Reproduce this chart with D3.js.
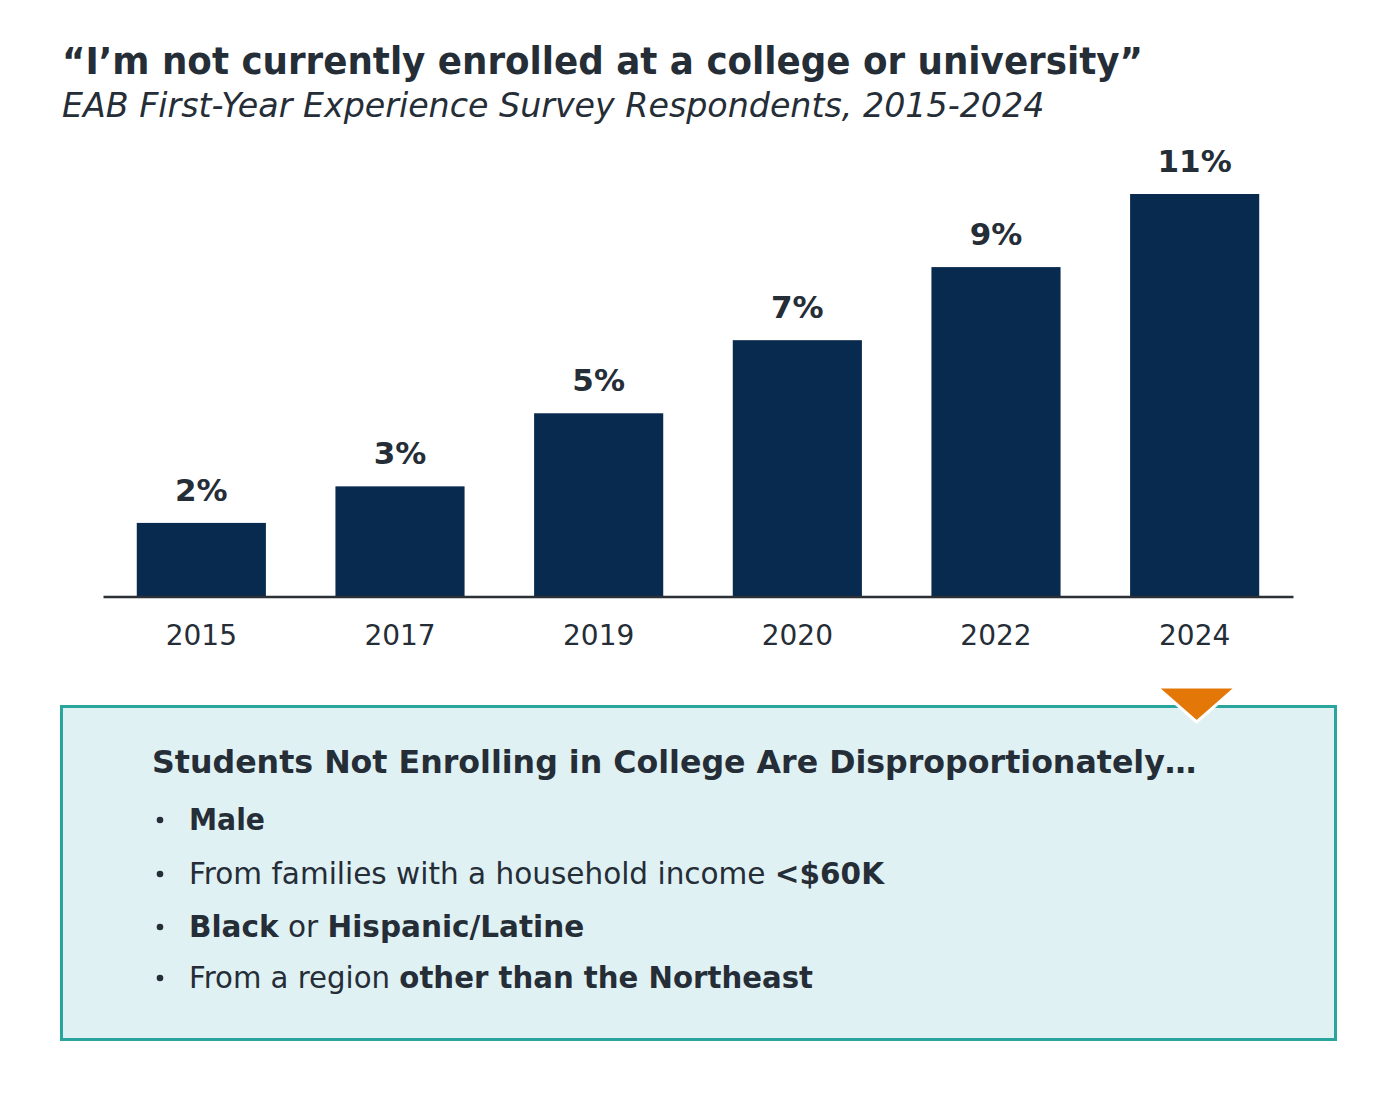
<!DOCTYPE html>
<html>
<head>
<meta charset="utf-8">
<script src="https://cdn.jsdelivr.net/npm/d3@7/dist/d3.min.js"></script>
<style>
  html, body { margin: 0; padding: 0; background: #ffffff; }
  svg { display: block; }
  text { white-space: pre; }
</style>
</head>
<body>
<svg id="chart" width="1396" height="1098"></svg>
<script>
// ---- data ----
const categories = ["2015", "2017", "2019", "2020", "2022", "2024"];
const values = [2, 3, 5, 7, 9, 11];
const titleText = "\u201CI\u2019m not currently enrolled at a college or university\u201D";
const subtitleText = "EAB First-Year Experience Survey Respondents, 2015-2024";
const boxHeading = "Students Not Enrolling in College Are Disproportionately\u2026";
const bulletLines = [
  [["Male", true]],
  [["From families with a household income ", false], ["<$60K", true]],
  [["Black", true], [" or ", false], ["Hispanic/Latine", true]],
  [["From a region ", false], ["other than the Northeast", true]]
];

// ---- style ----
const FONT = "'DejaVu Sans', Verdana, sans-serif";
const TEXT = "#252d37";
const BAR = "#092a4f";
const TEAL = "#2aa59e";
const BOXFILL = "#e0f1f4";
const ORANGE = "#e37708";

const svg = d3.select("#chart");

function squeeze(sel, target) {
  const w = sel.node().getComputedTextLength();
  if (w > target) {
    sel.attr("textLength", target).attr("lengthAdjust", "spacingAndGlyphs");
  } else {
    sel.attr("font-size", parseFloat(sel.attr("font-size")) * target / w);
  }
}

// ---- titles ----
const title = svg.append("text")
  .attr("x", 62).attr("y", 74)
  .attr("font-family", FONT).attr("font-weight", "bold")
  .attr("font-size", 37).attr("fill", TEXT)
  .text(titleText);
squeeze(title, 1081);

const subtitle = svg.append("text")
  .attr("x", 62).attr("y", 117)
  .attr("font-family", FONT).attr("font-style", "italic")
  .attr("font-size", 28).attr("fill", TEXT)
  .text(subtitleText);
squeeze(subtitle, 983);

// ---- scales ----
const x = d3.scaleBand()
  .domain(categories)
  .range([103, 1293])
  .paddingInner(0.35)
  .paddingOuter(0.17);

const y = d3.scaleLinear()
  .domain([0, d3.max(values)])
  .range([596, 194]);

const data = categories.map((c, i) => ({ cat: c, val: values[i] }));

// ---- bars ----
svg.append("g").selectAll("rect")
  .data(data)
  .join("rect")
  .attr("x", d => x(d.cat))
  .attr("y", d => y(d.val))
  .attr("width", x.bandwidth())
  .attr("height", d => y(0) - y(d.val))
  .attr("fill", BAR);

// ---- value labels ----
svg.append("g").selectAll("text")
  .data(data)
  .join("text")
  .attr("x", d => x(d.cat) + x.bandwidth() / 2)
  .attr("y", d => y(d.val) - 22)
  .attr("text-anchor", "middle")
  .attr("font-family", FONT).attr("font-weight", "bold")
  .attr("font-size", 31).attr("fill", TEXT)
  .text(d => d.val + "%");

// ---- x axis ----
const xAxis = d3.axisBottom(x).tickSize(0).tickSizeOuter(0).tickPadding(29);
const gx = svg.append("g")
  .attr("transform", `translate(0,${y(0) + 0.5})`)
  .call(xAxis);
gx.select(".domain").attr("stroke", "#2b2f36").attr("stroke-width", 2.6);
gx.selectAll(".tick text")
  .attr("font-family", FONT).attr("font-size", 28).attr("fill", TEXT);

// ---- callout box ----
svg.append("rect")
  .attr("x", 61.5).attr("y", 706.5)
  .attr("width", 1274).attr("height", 333)
  .attr("fill", BOXFILL)
  .attr("stroke", TEAL).attr("stroke-width", 3);

const cx = x("2024") + x.bandwidth() / 2 + 2;
svg.append("path")
  .attr("d", `M${cx - 40},687 L${cx + 40},687 L${cx},722 Z`)
  .attr("fill", ORANGE)
  .attr("stroke", "#ffffff").attr("stroke-width", 3)
  .attr("stroke-linejoin", "miter");

const heading = svg.append("text")
  .attr("x", 152).attr("y", 773)
  .attr("font-family", FONT).attr("font-weight", "bold")
  .attr("font-size", 30).attr("fill", TEXT)
  .text(boxHeading);
squeeze(heading, 1045);

// bullet lines
const lineY = [830, 884, 937, 988];
const lineW = [76, 695, 400, 624];
const bodyFs = 29.5;
const bg = svg.append("g");
bulletLines.forEach((segs, i) => {
  bg.append("circle")
    .attr("cx", 160).attr("cy", lineY[i] - 10)
    .attr("r", 3.3).attr("fill", TEXT);
  const t = bg.append("text")
    .attr("x", 189).attr("y", lineY[i])
    .attr("font-family", FONT).attr("font-size", bodyFs).attr("fill", TEXT);
  segs.forEach(([s, b]) => {
    t.append("tspan").attr("font-weight", b ? "bold" : "normal").text(s);
  });
  const w = t.node().getComputedTextLength();
  if (w > lineW[i]) t.attr("textLength", lineW[i]).attr("lengthAdjust", "spacingAndGlyphs");
});
</script>
</body>
</html>
